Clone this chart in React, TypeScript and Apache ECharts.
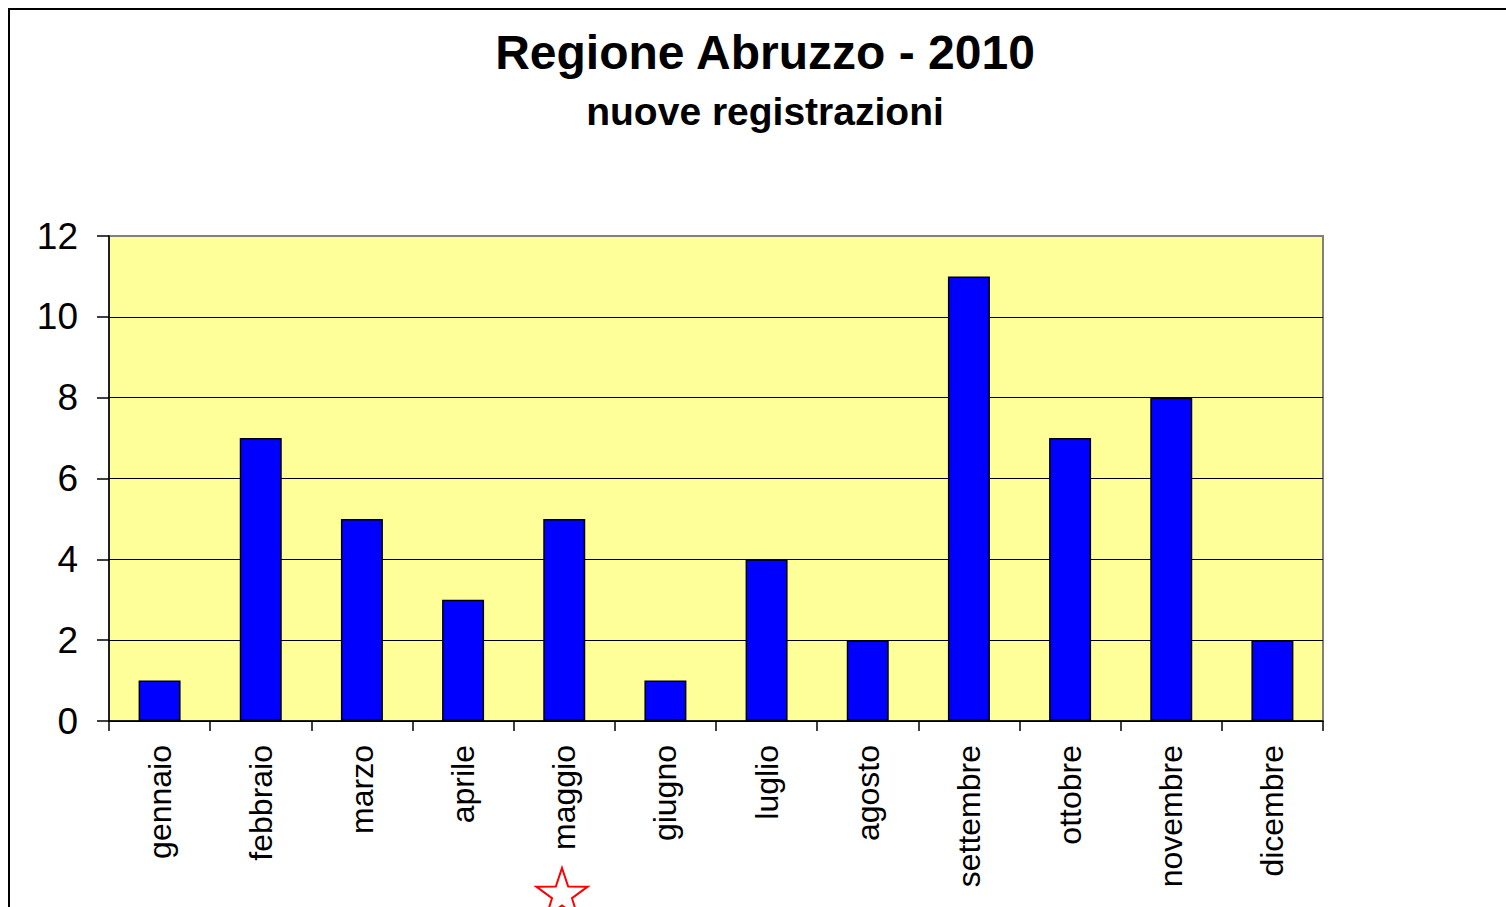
import React, { useEffect, useRef } from "react";
import * as echarts from "echarts";

const months = ["gennaio", "febbraio", "marzo", "aprile", "maggio", "giugno", "luglio", "agosto", "settembre", "ottobre", "novembre", "dicembre"];
const registrations = [1, 7, 5, 3, 5, 1, 4, 2, 11, 7, 8, 2];
const titleText = "Regione Abruzzo - 2010";
const subtitleText = "nuove registrazioni";
const FONT = "'Liberation Sans', Arial, sans-serif";

function starPoints(cx: number, cy: number, R: number, r: number) {
  const pts: number[][] = [];
  for (let i = 0; i < 10; i++) {
    const ang = -Math.PI / 2 + (i * Math.PI) / 5;
    const rad = i % 2 === 0 ? R : r;
    pts.push([cx + rad * Math.cos(ang), cy + rad * Math.sin(ang)]);
  }
  return pts;
}

export default function App() {
  const ref = useRef<HTMLDivElement>(null);
  useEffect(() => {
    if (!ref.current) return;
    const chart = echarts.init(ref.current, null, { renderer: "svg" });
    chart.setOption({
      animation: false,
      backgroundColor: "#ffffff",
      grid: {
        left: 109,
        right: 183,
        top: 236,
        bottom: 186,
        show: true,
        backgroundColor: "#FFFF99",
        borderColor: "#808080",
        borderWidth: 2,
      },
      xAxis: {
        type: "category",
        data: months,
        boundaryGap: true,
        axisLine: { show: true, lineStyle: { color: "#000", width: 1.5 } },
        axisTick: { show: true, length: 10, lineStyle: { color: "#000", width: 1.5 } },
        axisLabel: {
          rotate: 90,
          margin: 24,
          interval: 0,
          fontFamily: FONT,
          fontSize: 32,
          color: "#000",
        },
      },
      yAxis: {
        type: "value",
        min: 0,
        max: 12,
        interval: 2,
        axisLine: { show: true, lineStyle: { color: "#000", width: 1.5 } },
        axisTick: { show: true, length: 12, lineStyle: { color: "#000", width: 1.5 } },
        axisLabel: { margin: 31, fontFamily: FONT, fontSize: 37, color: "#000" },
        splitLine: {
          show: true,
          lineStyle: { color: ["#000", "#000", "#000", "#000", "#000", "#000", "#808080"], width: 1 },
        },
      },
      series: [
        {
          type: "bar",
          data: registrations,
          barWidth: "41.5%",
          itemStyle: { color: "#0000FF", borderColor: "#000", borderWidth: 1.5 },
        },
      ],
      graphic: [
        {
          type: "rect",
          shape: { x: 9, y: 9, width: 1700, height: 1100 },
          style: { fill: "none", stroke: "#000", lineWidth: 2 },
          silent: true,
        },
        {
          type: "text",
          x: 765,
          y: 52,
          style: {
            text: titleText,
            fontFamily: FONT,
            fontSize: 48,
            fontWeight: "bold",
            fill: "#000",
            textAlign: "center",
            textVerticalAlign: "middle",
          },
          silent: true,
        },
        {
          type: "text",
          x: 765,
          y: 111,
          style: {
            text: subtitleText,
            fontFamily: FONT,
            fontSize: 39,
            fontWeight: "bold",
            fill: "#000",
            textAlign: "center",
            textVerticalAlign: "middle",
          },
          silent: true,
        },
        {
          type: "polygon",
          shape: { points: starPoints(562, 895, 27, 10.5) },
          style: { fill: "#fff", stroke: "#FF0000", lineWidth: 2 },
          silent: true,
        },
      ],
    });
    return () => chart.dispose();
  }, []);
  return (
    <div
      ref={ref}
      style={{ position: "absolute", left: 0, top: 0, width: 1506, height: 907, overflow: "hidden" }}
    />
  );
}
